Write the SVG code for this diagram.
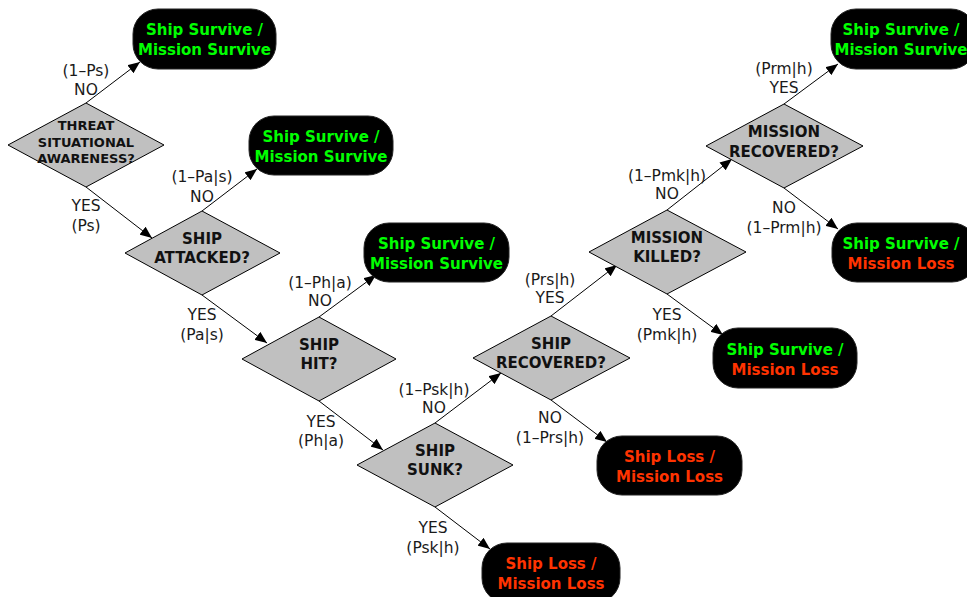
<svg xmlns="http://www.w3.org/2000/svg" width="967" height="597" viewBox="0 0 967 597">
<defs>
<marker id="ah" viewBox="0 0 12 10" refX="12" refY="5" markerWidth="12" markerHeight="10" markerUnits="userSpaceOnUse" orient="auto">
<path d="M0,0 L12,5 L0,10 Z" fill="#000"/>
</marker>
</defs>
<style>
.dec{fill:#c0c0c0;stroke:#000;stroke-width:1}
.term{fill:#000;stroke:#222;stroke-width:1}
.dt{font-family:"DejaVu Sans",Verdana,sans-serif;font-weight:bold;font-size:15px;fill:#111;text-anchor:middle}
.dts{font-size:13px}
.tt{font-family:"DejaVu Sans",Verdana,sans-serif;font-weight:bold;font-size:15px;text-anchor:middle}
.g{fill:#00ff00}
.r{fill:#ff3300}
.lb{font-family:"DejaVu Sans",Verdana,sans-serif;font-size:15.5px;fill:#1a1a1a;text-anchor:middle}
.cn{stroke:#000;stroke-width:1;fill:none;marker-end:url(#ah)}
</style>
<rect width="967" height="597" fill="#fff"/>
<g id="connectors">
<line class="cn" x1="86" y1="103" x2="140" y2="62"/>
<line class="cn" x1="86" y1="187" x2="152" y2="238"/>
<line class="cn" x1="202" y1="211" x2="257" y2="169"/>
<line class="cn" x1="202" y1="295" x2="267" y2="343"/>
<line class="cn" x1="319" y1="317" x2="376" y2="275"/>
<line class="cn" x1="319" y1="401" x2="383" y2="450"/>
<line class="cn" x1="435" y1="423" x2="501" y2="373"/>
<line class="cn" x1="435" y1="507" x2="490" y2="549"/>
<line class="cn" x1="551" y1="316" x2="617" y2="265"/>
<line class="cn" x1="551" y1="400" x2="607" y2="442"/>
<line class="cn" x1="667" y1="210" x2="732" y2="159"/>
<line class="cn" x1="667" y1="294" x2="723" y2="335"/>
<line class="cn" x1="784" y1="104" x2="838" y2="64"/>
<line class="cn" x1="784" y1="188" x2="838" y2="229"/>
</g>
<g id="labels">
<text class="lb" x="86" y="76">(1–Ps)</text><text class="lb" x="86" y="95">NO</text>
<text class="lb" x="86" y="211">YES</text><text class="lb" x="86" y="231">(Ps)</text>
<text class="lb" x="202" y="182">(1–Pa|s)</text><text class="lb" x="202" y="202">NO</text>
<text class="lb" x="202" y="320">YES</text><text class="lb" x="202" y="340">(Pa|s)</text>
<text class="lb" x="320" y="288">(1–Ph|a)</text><text class="lb" x="320" y="306">NO</text>
<text class="lb" x="321" y="427">YES</text><text class="lb" x="321" y="446">(Ph|a)</text>
<text class="lb" x="434" y="395">(1–Psk|h)</text><text class="lb" x="434" y="413">NO</text>
<text class="lb" x="433" y="533">YES</text><text class="lb" x="433" y="553">(Psk|h)</text>
<text class="lb" x="550" y="285">(Prs|h)</text><text class="lb" x="550" y="303">YES</text>
<text class="lb" x="550" y="423">NO</text><text class="lb" x="550" y="443">(1–Prs|h)</text>
<text class="lb" x="667" y="181">(1–Pmk|h)</text><text class="lb" x="667" y="199">NO</text>
<text class="lb" x="667" y="320">YES</text><text class="lb" x="667" y="340">(Pmk|h)</text>
<text class="lb" x="784" y="74">(Prm|h)</text><text class="lb" x="784" y="93">YES</text>
<text class="lb" x="784" y="213">NO</text><text class="lb" x="784" y="233">(1–Prm|h)</text>
</g>
<g id="d1"><polygon class="dec" points="8,145 86,103 164,145 86,187"/>
<text class="dt dts" x="86" y="130">THREAT</text><text class="dt dts" x="86" y="147">SITUATIONAL</text><text class="dt dts" x="86" y="163">AWARENESS?</text></g>
<g id="d2"><polygon class="dec" points="125,253 202,211 280,253 202,295"/>
<text class="dt" x="202" y="244">SHIP</text><text class="dt" x="202" y="263">ATTACKED?</text></g>
<g id="d3"><polygon class="dec" points="242,359 319,317 396,359 319,401"/>
<text class="dt" x="319" y="350">SHIP</text><text class="dt" x="319" y="369">HIT?</text></g>
<g id="d4"><polygon class="dec" points="357,465 435,423 513,465 435,507"/>
<text class="dt" x="435" y="456">SHIP</text><text class="dt" x="435" y="475">SUNK?</text></g>
<g id="d5"><polygon class="dec" points="473,358 551,316 630,358 551,400"/>
<text class="dt" x="551" y="349">SHIP</text><text class="dt" x="551" y="368">RECOVERED?</text></g>
<g id="d6"><polygon class="dec" points="589,252 667,210 746,252 667,294"/>
<text class="dt" x="667" y="243">MISSION</text><text class="dt" x="667" y="262">KILLED?</text></g>
<g id="d7"><polygon class="dec" points="706,146 784,104 863,146 784,188"/>
<text class="dt" x="784" y="137">MISSION</text><text class="dt" x="784" y="157">RECOVERED?</text></g>
<g id="t1"><rect class="term" x="133" y="9" width="143" height="60" rx="25"/>
<text class="tt g" x="204.5" y="35">Ship Survive /</text><text class="tt g" x="204.5" y="55">Mission Survive</text></g>
<g id="t2"><rect class="term" x="249" y="116" width="144" height="59" rx="25"/>
<text class="tt g" x="321" y="142">Ship Survive /</text><text class="tt g" x="321" y="162">Mission Survive</text></g>
<g id="t3"><rect class="term" x="364" y="223" width="145" height="59" rx="25"/>
<text class="tt g" x="436.5" y="249">Ship Survive /</text><text class="tt g" x="436.5" y="269">Mission Survive</text></g>
<g id="t4"><rect class="term" x="482" y="543" width="138" height="60" rx="25"/>
<text class="tt r" x="551" y="569">Ship Loss /</text><text class="tt r" x="551" y="589">Mission Loss</text></g>
<g id="t5"><rect class="term" x="597" y="436" width="145" height="59" rx="25"/>
<text class="tt r" x="669.5" y="462">Ship Loss /</text><text class="tt r" x="669.5" y="482">Mission Loss</text></g>
<g id="t6"><rect class="term" x="713" y="328" width="144" height="60" rx="25"/>
<text class="tt g" x="785" y="355">Ship Survive /</text><text class="tt r" x="785" y="375">Mission Loss</text></g>
<g id="t7"><rect class="term" x="831" y="9" width="145" height="60" rx="25"/>
<text class="tt g" x="901" y="35">Ship Survive /</text><text class="tt g" x="901" y="55">Mission Survive</text></g>
<g id="t8"><rect class="term" x="832" y="223" width="145" height="59" rx="25"/>
<text class="tt g" x="901" y="249">Ship Survive /</text><text class="tt r" x="901" y="269">Mission Loss</text></g>
</svg>
